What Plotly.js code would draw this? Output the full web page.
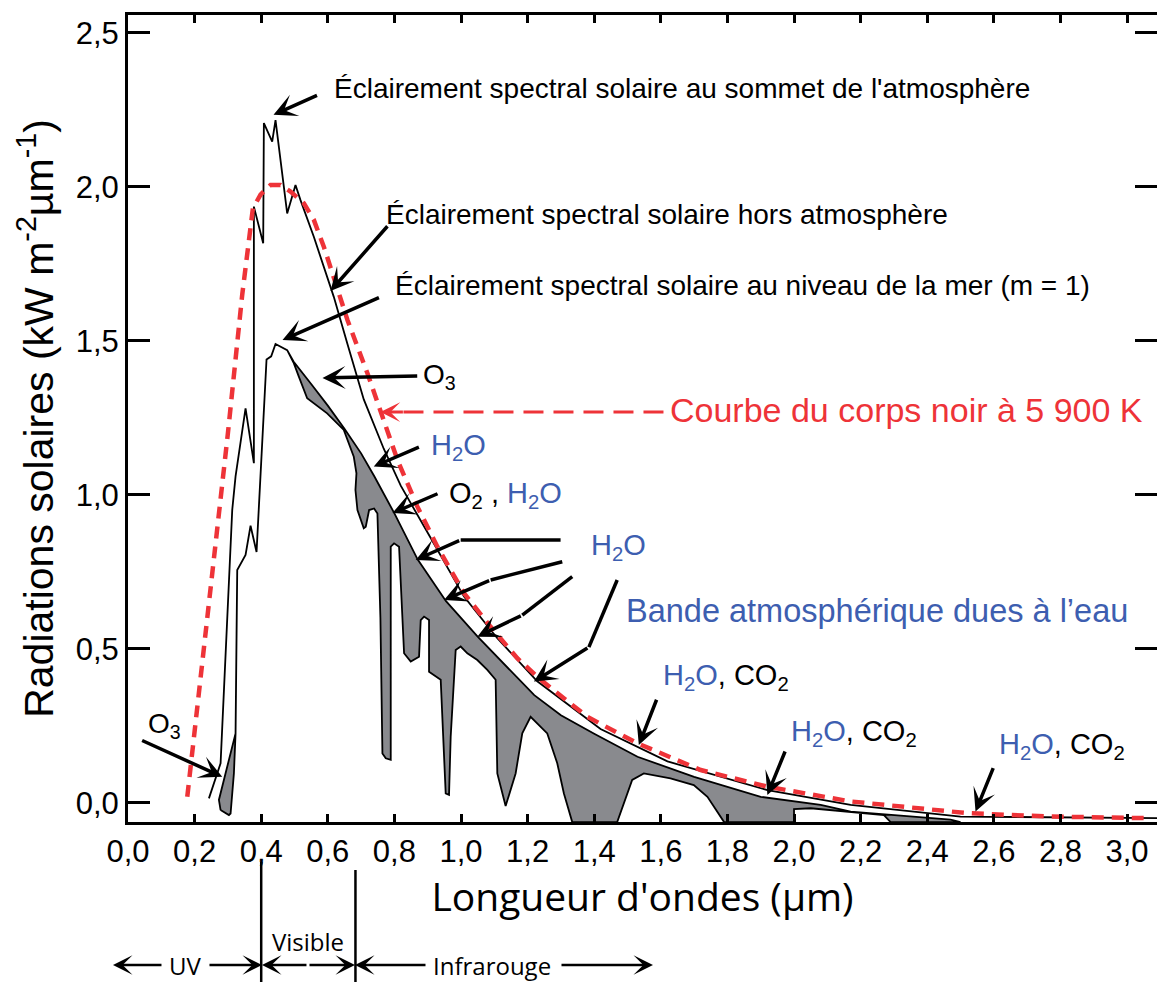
<!DOCTYPE html>
<html>
<head>
<meta charset="utf-8">
<script src="https://cdn.plot.ly/plotly-3.0.1.min.js"></script>
<style>html,body{margin:0;padding:0;background:#fff;}#chart{width:1157px;height:982px;}</style>
</head>
<body>
<div id="chart"></div>
<script>
// ---------------- data ----------------
// Black body curve at 5 900 K (red dashed)
const blackBodyX = [0.178, 0.26, 0.30, 0.343, 0.36, 0.375, 0.398, 0.428, 0.458, 0.488, 0.528, 0.558, 0.588, 0.618, 0.659, 0.719, 0.759, 0.809, 0.869, 0.929, 1.009, 1.089, 1.169, 1.239, 1.379, 1.529, 1.72, 1.92, 2.17, 2.52, 2.77, 3.05];
const blackBodyY = [0.02, 0.80, 1.20, 1.65, 1.80, 1.93, 1.975, 2.006, 2.006, 1.985, 1.947, 1.893, 1.806, 1.709, 1.568, 1.395, 1.265, 1.114, 0.962, 0.832, 0.681, 0.572, 0.47, 0.40, 0.28, 0.194, 0.107, 0.053, 0.005, -0.033, -0.044, -0.049];

// Extraterrestrial solar spectral irradiance (thin black)
const topAtmX = [0.243, 0.278, 0.313, 0.323, 0.353, 0.378, 0.378, 0.406, 0.408, 0.433, 0.443, 0.478, 0.503, 0.518, 0.558, 0.618, 0.659, 0.708, 0.768, 0.819, 0.909, 1.009, 1.109, 1.229, 1.419, 1.62, 1.92, 2.17, 2.5, 3.09];
const topAtmY = [0.015, 0.129, 0.951, 1.06, 1.281, 1.103, 1.936, 1.817, 2.207, 2.147, 2.217, 1.914, 2.006, 1.957, 1.838, 1.643, 1.49, 1.31, 1.15, 1.03, 0.86, 0.67, 0.535, 0.395, 0.24, 0.135, 0.042, -0.006, -0.044, -0.049];

// Sea level solar spectral irradiance, m = 1 (with absorption bands)
const seaLevelX = [0.278, 0.303, 0.308, 0.318, 0.323, 0.326, 0.328, 0.353, 0.368, 0.386, 0.416, 0.43, 0.443, 0.478, 0.497, 0.513, 0.538, 0.598, 0.648, 0.678, 0.686, 0.683, 0.689, 0.708, 0.714, 0.724, 0.739, 0.749, 0.758, 0.764, 0.774, 0.789, 0.789, 0.799, 0.814, 0.829, 0.849, 0.874, 0.879, 0.889, 0.904, 0.904, 0.939, 0.944, 0.954, 0.964, 0.969, 0.984, 0.999, 1.019, 1.049, 1.079, 1.104, 1.109, 1.134, 1.164, 1.184, 1.209, 1.259, 1.289, 1.309, 1.334, 1.469, 1.514, 1.549, 1.629, 1.699, 1.74, 1.79, 2.0, 2.0, 2.05, 2.27, 2.29, 2.5];
const seaLevelY = [-0.023, -0.039, -0.034, 0.096, 0.226, 0.55, 0.756, 0.805, 0.90, 0.815, 1.44, 1.45, 1.49, 1.47, 1.43, 1.384, 1.314, 1.265, 1.211, 1.124, 1.07, 1.016, 0.951, 0.892, 0.897, 0.951, 0.956, 0.94, 0.60, 0.161, 0.145, 0.14, 0.832, 0.843, 0.832, 0.486, 0.459, 0.475, 0.594, 0.605, 0.594, 0.426, 0.40, 0.291, 0.031, 0.026, 0.215, 0.497, 0.508, 0.486, 0.464, 0.432, 0.40, 0.096, -0.01, 0.096, 0.226, 0.28, 0.226, 0.129, 0.031, -0.062, -0.062, 0.075, 0.096, 0.08, 0.058, 0.02, -0.062, -0.062, -0.02, -0.017, -0.039, -0.062, -0.062];

// Envelope of the sea level spectrum without absorption (top of the grey bands)
const uvEnvX = [0.278, 0.273, 0.323];
const uvEnvY = [-0.023, 0.01, 0.226];
const irEnvX = [0.497, 0.55, 0.60, 0.65, 0.70, 0.74, 0.80, 0.87, 0.955, 1.05, 1.13, 1.22, 1.30, 1.40, 1.53, 1.70, 1.90, 2.08, 2.17, 2.47, 2.5];
const irEnvY = [1.433, 1.36, 1.29, 1.215, 1.135, 1.06, 0.94, 0.79, 0.655, 0.54, 0.45, 0.35, 0.285, 0.225, 0.15, 0.085, 0.02, -0.006, -0.028, -0.054, -0.062];

// spectral domains
const domainBounds = [0.40, 0.683];
const domainNames = ['UV', 'Visible', 'Infrarouge'];

// ---------------- build the grey absorption polygon ----------------
const midX = [], midY = [];
for (let i = 5; i < seaLevelX.length; i++) {
  if (seaLevelX[i] > 0.323 && seaLevelX[i] < 0.497) { midX.push(seaLevelX[i]); midY.push(seaLevelY[i]); }
}
const envX = uvEnvX.concat(midX, irEnvX);
const envY = uvEnvY.concat(midY, irEnvY);
const polyX = envX.concat(seaLevelX.slice().reverse());
const polyY = envY.concat(seaLevelY.slice().reverse());

const traces = [
  {x: polyX, y: polyY, type: 'scatter', mode: 'lines', fill: 'toself', fillcolor: '#898a8e',
   line: {color: '#000', width: 1.8}, hoverinfo: 'skip', name: 'Niveau de la mer'},
  {x: topAtmX, y: topAtmY, type: 'scatter', mode: 'lines', line: {color: '#000', width: 1.8}, name: 'Hors atmosphère'},
  {x: blackBodyX, y: blackBodyY, type: 'scatter', mode: 'lines', line: {color: '#ee3338', width: 4.5, dash: '12px,8px'}, name: 'Corps noir 5 900 K'}
];

// ---------------- annotations ----------------
const F = 'Liberation Sans, Arial, Helvetica, sans-serif';
const FM = 'Open Sans, Noto Sans, sans-serif';
const BLUE = '#3d5eb0';
const RED = '#ee3338';
function arrow(x, y, ax, ay, o) {
  return Object.assign({x: x, y: y, ax: ax, ay: ay, xref: 'x', yref: 'y', axref: 'x', ayref: 'y', text: '',
    showarrow: true, arrowhead: 3, arrowsize: 1.1, arrowwidth: 3.5, arrowcolor: '#000', standoff: 0, startstandoff: 0}, o || {});
}
function label(x, y, text, size, color, o) {
  return Object.assign({x: x, y: y, xref: 'x', yref: 'y', text: text, showarrow: false, xanchor: 'left', yanchor: 'middle',
    font: {family: F, size: size, color: color || '#000'}}, o || {});
}
const h2o = '<span style="color:' + BLUE + '">H<sub>2</sub>O</span>';
const ann = [
  label(0.614, 2.318, "Éclairement spectral solaire au sommet de l'atmosphère", 28),
  arrow(0.437, 2.234, 0.572, 2.299),
  label(0.768, 1.912, 'Éclairement spectral solaire hors atmosphère', 28),
  arrow(0.608, 1.662, 0.783, 1.877),
  label(0.795, 1.679, 'Éclairement spectral solaire au niveau de la mer (m = 1)', 28),
  arrow(0.464, 1.503, 0.758, 1.643),
  label(0.881, 1.385, 'O<sub>3</sub>', 28),
  arrow(0.584, 1.38, 0.873, 1.386),
  label(1.623, 1.276, 'Courbe du corps noir à 5 900 K', 34, RED),
  arrow(0.758, 1.269, 0.83, 1.269, {arrowcolor: RED, arrowwidth: 3}),
  label(0.903, 1.156, h2o, 29),
  arrow(0.738, 1.092, 0.878, 1.157),
  label(0.957, 1.0, 'O<sub>2</sub> , ' + h2o, 29),
  arrow(0.794, 0.941, 0.934, 1.006),
  label(1.383, 0.83, h2o, 29),
  arrow(0.864, 0.789, 0.999, 0.854),
  arrow(0.949, 0.659, 1.089, 0.724),
  arrow(1.049, 0.540, 1.184, 0.610),
  arrow(1.219, 0.394, 1.384, 0.506),
  label(1.488, 0.623, 'Bande atmosphérique dues à l\u2019eau', 32.5, BLUE),
  label(1.60, 0.41, h2o + ', CO<sub>2</sub>', 29),
  arrow(1.534, 0.188, 1.589, 0.34),
  label(1.984, 0.228, h2o + ', CO<sub>2</sub>', 29),
  arrow(1.92, 0.026, 1.975, 0.172),
  label(2.611, 0.186, h2o + ', CO<sub>2</sub>', 29),
  arrow(2.545, -0.028, 2.6, 0.118),
  label(0.053, 0.25, 'O<sub>3</sub>', 28),
  arrow(0.283, 0.085, 0.038, 0.205)
];

// bottom strip: spectral domains (paper coordinates)
function pArrow(x, ax, o) {
  return Object.assign({x: x, y: -0.1772, xref: 'paper', yref: 'paper', ax: ax, ay: 0, axref: 'pixel', ayref: 'pixel', text: '',
    showarrow: true, arrowhead: 3, arrowsize: 1.3, arrowwidth: 2.5, arrowcolor: '#000', standoff: 0}, o || {});
}
function pText(x, y, t) {
  return {x: x, y: y, xref: 'paper', yref: 'paper', text: t, showarrow: false, xanchor: 'center', yanchor: 'middle',
    font: {family: FM, size: 24, color: '#000'}};
}
ann.push(
  pArrow(-0.0146, 50), pArrow(0.1302, -54),
  pArrow(0.1302, 46), pArrow(0.2206, -47),
  pArrow(0.2206, 72), pArrow(0.5102, -93),
  pText(0.0554, -0.1772, domainNames[0]),
  pText(0.175, -0.1475, domainNames[1]),
  pText(0.3537, -0.1772, domainNames[2])
);

const shapes = [
  {type: 'line', xref: 'x', yref: 'y', x0: 1.608, x1: 0.80, y0: 1.269, y1: 1.269, line: {color: RED, width: 3, dash: '20px,10px'}},
  {type: 'line', xref: 'x', yref: 'y', x0: 1.299, y0: 0.854, x1: 0.999, y1: 0.854, line: {color: '#000', width: 3.5}},
  {type: 'line', xref: 'x', yref: 'y', x0: 1.304, y0: 0.783, x1: 1.089, y1: 0.724, line: {color: '#000', width: 3.5}},
  {type: 'line', xref: 'x', yref: 'y', x0: 1.334, y0: 0.735, x1: 1.184, y1: 0.610, line: {color: '#000', width: 3.5}},
  {type: 'line', xref: 'x', yref: 'y', x0: 1.469, y0: 0.724, x1: 1.384, y1: 0.506, line: {color: '#000', width: 3.5}},
  {type: 'line', xref: 'x', yref: 'paper', x0: domainBounds[0], x1: domainBounds[0], y0: -0.0496, y1: -0.21, line: {color: '#000', width: 2.5}},
  {type: 'line', xref: 'x', yref: 'paper', x0: domainBounds[1], x1: domainBounds[1], y0: -0.0595, y1: -0.21, line: {color: '#000', width: 2.5}}
];

const layout = {
  width: 1157, height: 982,
  margin: {l: 128, r: 0, t: 15, b: 160, pad: 0},
  paper_bgcolor: '#fff', plot_bgcolor: '#fff',
  showlegend: false,
  separators: ',.',
  xaxis: {
    range: [0, 3.09], tick0: 0, dtick: 0.2, tickformat: '.1f',
    ticks: 'inside', ticklen: 8, tickwidth: 3, tickcolor: '#000',
    showline: true, linewidth: 3, linecolor: '#000', mirror: 'ticks',
    showgrid: false, zeroline: false,
    tickfont: {family: F, size: 31, color: '#000'},
    title: {text: "Longueur d'ondes (µm)", font: {family: FM, size: 39, color: '#000'}, standoff: 16}
  },
  yaxis: {
    range: [-0.0617, 2.558], tick0: 0, dtick: 0.5, tickformat: '.1f',
    ticks: 'inside', ticklen: 22, tickwidth: 3, tickcolor: '#000',
    showline: true, linewidth: 3, linecolor: '#000', mirror: 'ticks',
    showgrid: false, zeroline: false,
    tickfont: {family: F, size: 31, color: '#000'},
    title: {text: 'Radiations solaires (kW m<sup>-2</sup>µm<sup>-1</sup>)', font: {family: F, size: 41, color: '#000'}, standoff: 10}
  },
  annotations: ann,
  shapes: shapes
};

Plotly.newPlot('chart', traces, layout, {displayModeBar: false, staticPlot: true});
</script>
</body>
</html>
